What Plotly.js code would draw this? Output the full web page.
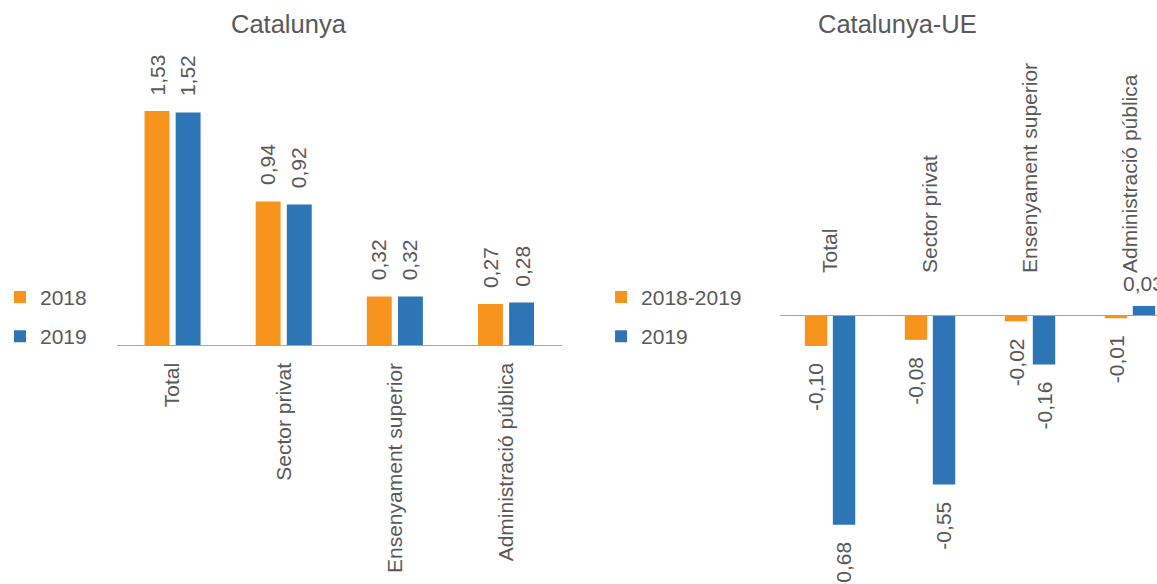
<!DOCTYPE html>
<html>
<head>
<meta charset="utf-8">
<script src="https://cdn.plot.ly/plotly-3.0.1.min.js"></script>
<style>
  html, body { margin: 0; padding: 0; background: #fff; }
  #chart { width: 1157px; height: 584px; }
</style>
</head>
<body>
<div id="chart"></div>
<script>
// categories and values
const categories = ['Total', 'Sector privat', 'Ensenyament superior', 'Administració pública'];
const cat2018 = [1.53, 0.94, 0.32, 0.27];
const cat2019 = [1.52, 0.92, 0.32, 0.28];
const ueDiff = [-0.10, -0.08, -0.02, -0.01];
const ue2019 = [-0.68, -0.55, -0.16, 0.03];

const leftNames = ['2018', '2019'];
const rightNames = ['2018-2019', '2019'];

const ORANGE = '#F7941D';
const BLUE = '#2E75B6';
const TXT = '#595959';
const FONT = 'Arial, "Liberation Sans", sans-serif';
const FS = 21;

const fmt = v => v.toFixed(2).replace('.', ',');

function barTrace(y, name, color, xa, ya, legend, group) {
    return {
        type: 'bar',
        x: categories,
        y: y,
        name: name,
        xaxis: xa,
        yaxis: ya,
        legend: legend,
        legendgroup: group,
        marker: { color: color, line: { width: 0 } },
        hoverinfo: 'skip'
    };
}

const traces = [
    barTrace(cat2018, leftNames[0], ORANGE, 'x', 'y', 'legend', 'l1'),
    barTrace(cat2019, leftNames[1], BLUE, 'x', 'y', 'legend', 'l2'),
    barTrace(ueDiff, rightNames[0], ORANGE, 'x2', 'y2', 'legend2', 'r1'),
    barTrace(ue2019, rightNames[1], BLUE, 'x2', 'y2', 'legend2', 'r2')
];

// value labels, placed next to each bar end
const OFF = 0.14;
const annotations = [];
function addLabels(vals, off, xref, yref) {
    vals.forEach((v, i) => {
        const pos = v >= 0;
        const flat = pos && xref === 'x2';
        annotations.push({
            x: i + off, y: v, xref: xref, yref: yref,
            text: fmt(v),
            showarrow: false,
            textangle: flat ? 0 : -90,
            yanchor: pos ? 'bottom' : 'top',
            xanchor: 'center',
            yshift: flat ? 9 : (pos ? 14 : -15),
            font: { family: FONT, size: FS, color: TXT }
        });
    });
}
addLabels(cat2018, -OFF, 'x', 'y');
addLabels(cat2019, OFF, 'x', 'y');
addLabels(ueDiff, -OFF, 'x2', 'y2');
addLabels(ue2019, OFF, 'x2', 'y2');

// panel titles
annotations.push({
    text: 'Catalunya', xref: 'paper', yref: 'paper', x: 0.2498, y: 0.9589,
    xanchor: 'center', yanchor: 'middle', showarrow: false,
    font: { family: FONT, size: 25.5, color: TXT }
});
annotations.push({
    text: 'Catalunya-UE', xref: 'paper', yref: 'paper', x: 0.7761, y: 0.9589,
    xanchor: 'center', yanchor: 'middle', showarrow: false,
    font: { family: FONT, size: 25.5, color: TXT }
});

const tickFont = { family: FONT, size: FS, color: TXT };
const legendBase = {
    font: { family: FONT, size: FS, color: TXT },
    bgcolor: 'rgba(0,0,0,0)',
    traceorder: 'grouped',
    tracegroupgap: 9,
    xanchor: 'left',
    yanchor: 'top'
};

const layout = {
    width: 1157,
    height: 584,
    margin: { l: 0, r: 0, t: 0, b: 0, autoexpand: false },
    paper_bgcolor: '#fff',
    plot_bgcolor: 'rgba(0,0,0,0)',
    font: { family: FONT, color: TXT },
    barmode: 'group',
    bargap: 0.44,
    bargroupgap: 0.2,
    showlegend: true,
    legend: Object.assign({ x: 0, y: 0.526 }, legendBase),
    legend2: Object.assign({ x: 0.5195, y: 0.526 }, legendBase),
    xaxis: {
        domain: [0.1011, 0.4854],
        range: [-0.5, 3.5],
        showline: true, linecolor: '#A6A6A6', linewidth: 1,
        showgrid: false, zeroline: false, ticks: '',
        tickangle: -90, tickfont: tickFont,
        ticklabelstandoff: 8,
        fixedrange: true
    },
    yaxis: {
        domain: [0.4084, 0.9144],
        range: [0, 1.9276],
        visible: false,
        fixedrange: true
    },
    xaxis2: {
        domain: [0.6742, 1],
        range: [-0.5, 3.27],
        anchor: 'free',
        position: (584 - 315.2) / 584,
        side: 'top',
        showline: true, linecolor: '#A6A6A6', linewidth: 1,
        showgrid: false, zeroline: false, ticks: '',
        tickangle: -90, tickfont: tickFont,
        ticklabelstandoff: 38,
        fixedrange: true
    },
    yaxis2: {
        domain: [0, 0.9144],
        range: [-0.8727, 0.861],
        anchor: 'x2',
        visible: false,
        fixedrange: true
    },
    annotations: annotations
};

Plotly.newPlot('chart', traces, layout, { displayModeBar: false, staticPlot: true });
</script>
</body>
</html>
